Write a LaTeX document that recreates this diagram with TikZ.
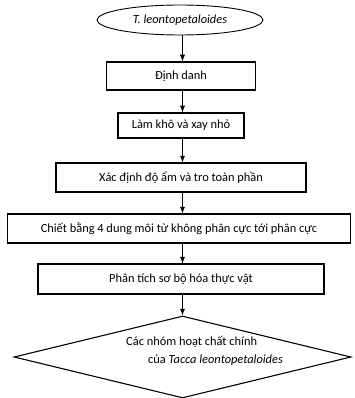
\documentclass[tikz,border=0pt]{standalone}
\usepackage{fontspec}
\setmainfont{Carlito}
\usetikzlibrary{shapes.geometric}

\begin{document}
\begin{tikzpicture}[x=1pt, y=-1pt,
	box/.style={rectangle, draw, line width=1.1pt, inner sep=1pt},
	flow/.style={-latex, line width=1.3pt},
	font=\fontsize{12.4}{18}\selectfont]
	\useasboundingbox (0,0) rectangle (355,398);

	% Define the nodes with specific positions
	\node[ellipse, draw, line width=0.9pt, inner sep=1pt, minimum width=166pt, minimum height=30pt] (start) at (180, 20) {\textit{T. leontopetaloides}};
	\node[box, minimum width=149pt, minimum height=28pt] (dinhdanh) at (181, 76) {Định danh};
	\node[box, minimum width=126pt, minimum height=25pt] (lamkho) at (181, 125.5) {Làm khô và xay nhỏ};
	\node[box, minimum width=250pt, minimum height=29pt] (doam) at (181, 177.5) {Xác định độ ẩm và tro toàn phần};
	\node[box, minimum width=343pt, minimum height=29pt] (chiet) at (179, 228.5) {Chiết bằng 4 dung môi từ không phân cực tới phân cực};
	\node[box, minimum width=286pt, minimum height=30pt] (phantich) at (181, 279) {Phân tích sơ bộ hóa thực vật};
	\node[diamond, draw, line width=1.1pt, inner sep=0pt, minimum width=337pt, minimum height=82pt] (ketqua) at (182.5, 357) {};
	\node[anchor=west, align=left, inner sep=0pt] (ketquatext) at (126, 351) {Các nhóm hoạt chất chính\\\hspace{22pt}của \textit{Tacca leontopetaloides}};

	% Draw the arrows between the steps
	\draw[flow] (start.south -| ketqua.north) -- (dinhdanh.north -| ketqua.north);
	\draw[flow] (dinhdanh.south -| ketqua.north) -- (lamkho.north -| ketqua.north);
	\draw[flow] (lamkho.south -| ketqua.north) -- (doam.north -| ketqua.north);
	\draw[flow] (doam.south -| ketqua.north) -- (chiet.north -| ketqua.north);
	\draw[flow] (chiet.south -| ketqua.north) -- (phantich.north -| ketqua.north);
	\draw[flow] (phantich.south -| ketqua.north) -- (ketqua.north);
\end{tikzpicture}
\end{document}
